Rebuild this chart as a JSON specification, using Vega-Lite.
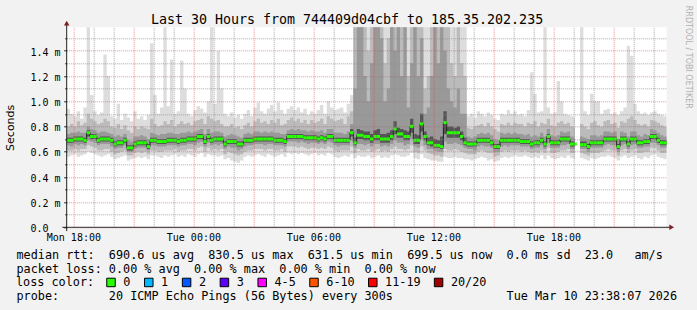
{
"$schema": "https://vega.github.io/schema/vega-lite/v6.json",
"width": 600,
"height": 200,
"autosize": "none",
"padding": {"left": 66.7, "top": 27.3, "right": 30.3, "bottom": 82.7},
"background": "#f2f2f2",
"config": {"view": {"fill": "white", "stroke": null}, "font": "DejaVu Sans Mono"},
"title": {"text": "Last 30 Hours from 744409d04cbf to 185.35.202.235", "font": "DejaVu Sans Mono", "fontSize": 13.3, "fontWeight": "normal", "color": "black", "anchor": "middle", "dx": -19.7, "baseline": "alphabetic", "offset": -32.4},
"data": {"values": [
{"t":"2026-03-09 17:40","m":0.69,"a0":0.56,"b0":0.61,"c0":0.65,"d0":0.67,"d1":0.71,"c1":0.74,"b1":0.80,"a1":0.94},
{"t":"2026-03-09 17:50","m":0.69,"a0":0.57,"b0":0.61,"c0":0.64,"d0":0.67,"d1":0.71,"c1":0.75,"b1":0.82,"a1":0.90},
{"t":"2026-03-09 18:00","m":0.70,"a0":0.58,"b0":0.62,"c0":0.66,"d0":0.68,"d1":0.72,"c1":0.75,"b1":0.80,"a1":0.88},
{"t":"2026-03-09 18:10","m":0.70,"a0":0.56,"b0":0.61,"c0":0.65,"d0":0.68,"d1":0.72,"c1":0.76,"b1":0.84,"a1":0.92},
{"t":"2026-03-09 18:20","m":0.70,"a0":0.57,"b0":0.62,"c0":0.66,"d0":0.68,"d1":0.72,"c1":0.75,"b1":0.81,"a1":0.86},
{"t":"2026-03-09 18:30","m":0.69,"a0":0.58,"b0":0.62,"c0":0.65,"d0":0.67,"d1":0.71,"c1":0.75,"b1":0.83,"a1":0.95},
{"t":"2026-03-09 18:40","m":0.75,"a0":0.60,"b0":0.65,"c0":0.69,"d0":0.72,"d1":0.77,"c1":0.80,"b1":0.90,"a1":1.6},
{"t":"2026-03-09 18:50","m":0.72,"a0":0.59,"b0":0.64,"c0":0.68,"d0":0.70,"d1":0.74,"c1":0.78,"b1":0.86,"a1":1.05},
{"t":"2026-03-09 19:00","m":0.72,"a0":0.58,"b0":0.63,"c0":0.67,"d0":0.70,"d1":0.74,"c1":0.77,"b1":0.84,"a1":0.92},
{"t":"2026-03-09 19:10","m":0.69,"a0":0.57,"b0":0.61,"c0":0.65,"d0":0.67,"d1":0.71,"c1":0.75,"b1":0.82,"a1":0.89},
{"t":"2026-03-09 19:20","m":0.70,"a0":0.56,"b0":0.61,"c0":0.66,"d0":0.68,"d1":0.72,"c1":0.76,"b1":0.83,"a1":0.91},
{"t":"2026-03-09 19:30","m":0.70,"a0":0.57,"b0":0.62,"c0":0.66,"d0":0.68,"d1":0.72,"c1":0.76,"b1":0.86,"a1":1.37},
{"t":"2026-03-09 19:40","m":0.70,"a0":0.58,"b0":0.62,"c0":0.66,"d0":0.68,"d1":0.72,"c1":0.75,"b1":0.84,"a1":1.2},
{"t":"2026-03-09 19:50","m":0.69,"a0":0.56,"b0":0.60,"c0":0.64,"d0":0.67,"d1":0.71,"c1":0.74,"b1":0.80,"a1":0.88},
{"t":"2026-03-09 20:00","m":0.66,"a0":0.54,"b0":0.58,"c0":0.62,"d0":0.64,"d1":0.68,"c1":0.72,"b1":0.79,"a1":0.86},
{"t":"2026-03-09 20:10","m":0.67,"a0":0.55,"b0":0.59,"c0":0.63,"d0":0.65,"d1":0.69,"c1":0.73,"b1":0.82,"a1":0.98},
{"t":"2026-03-09 20:20","m":0.67,"a0":0.56,"b0":0.60,"c0":0.63,"d0":0.65,"d1":0.69,"c1":0.72,"b1":0.78,"a1":0.85},
{"t":"2026-03-09 20:30","m":0.69,"a0":0.57,"b0":0.61,"c0":0.65,"d0":0.67,"d1":0.71,"c1":0.74,"b1":0.81,"a1":0.90},
{"t":"2026-03-09 20:40","m":0.63,"a0":0.53,"b0":0.57,"c0":0.60,"d0":0.61,"d1":0.65,"c1":0.69,"b1":0.77,"a1":0.87},
{"t":"2026-03-09 20:50","m":0.63,"a0":0.54,"b0":0.57,"c0":0.60,"d0":0.61,"d1":0.65,"c1":0.68,"b1":0.75,"a1":0.84},
{"t":"2026-03-09 21:00","m":0.66,"a0":0.55,"b0":0.59,"c0":0.62,"d0":0.64,"d1":0.68,"c1":0.72,"b1":0.80,"a1":0.92},
{"t":"2026-03-09 21:10","m":0.67,"a0":0.56,"b0":0.60,"c0":0.63,"d0":0.65,"d1":0.69,"c1":0.72,"b1":0.78,"a1":0.86},
{"t":"2026-03-09 21:20","m":0.67,"a0":0.55,"b0":0.59,"c0":0.63,"d0":0.65,"d1":0.69,"c1":0.73,"b1":0.80,"a1":0.88},
{"t":"2026-03-09 21:30","m":0.67,"a0":0.56,"b0":0.60,"c0":0.63,"d0":0.65,"d1":0.69,"c1":0.72,"b1":0.79,"a1":0.85},
{"t":"2026-03-09 21:40","m":0.64,"a0":0.54,"b0":0.58,"c0":0.61,"d0":0.62,"d1":0.66,"c1":0.70,"b1":0.78,"a1":0.89},
{"t":"2026-03-09 21:50","m":0.69,"a0":0.57,"b0":0.61,"c0":0.65,"d0":0.67,"d1":0.71,"c1":0.75,"b1":0.86,"a1":1.46},
{"t":"2026-03-09 22:00","m":0.69,"a0":0.57,"b0":0.61,"c0":0.65,"d0":0.67,"d1":0.71,"c1":0.74,"b1":0.82,"a1":1.05},
{"t":"2026-03-09 22:10","m":0.68,"a0":0.56,"b0":0.60,"c0":0.64,"d0":0.66,"d1":0.70,"c1":0.73,"b1":0.80,"a1":0.90},
{"t":"2026-03-09 22:20","m":0.68,"a0":0.55,"b0":0.60,"c0":0.64,"d0":0.66,"d1":0.70,"c1":0.74,"b1":0.81,"a1":0.95},
{"t":"2026-03-09 22:30","m":0.68,"a0":0.57,"b0":0.61,"c0":0.64,"d0":0.66,"d1":0.70,"c1":0.74,"b1":0.84,"a1":1.6},
{"t":"2026-03-09 22:40","m":0.69,"a0":0.56,"b0":0.61,"c0":0.65,"d0":0.67,"d1":0.71,"c1":0.75,"b1":0.82,"a1":0.96},
{"t":"2026-03-09 22:50","m":0.69,"a0":0.57,"b0":0.61,"c0":0.65,"d0":0.67,"d1":0.71,"c1":0.75,"b1":0.85,"a1":1.33},
{"t":"2026-03-09 23:00","m":0.69,"a0":0.58,"b0":0.62,"c0":0.65,"d0":0.67,"d1":0.71,"c1":0.74,"b1":0.80,"a1":0.90},
{"t":"2026-03-09 23:10","m":0.68,"a0":0.56,"b0":0.60,"c0":0.64,"d0":0.66,"d1":0.70,"c1":0.74,"b1":0.82,"a1":0.92},
{"t":"2026-03-09 23:20","m":0.69,"a0":0.57,"b0":0.61,"c0":0.65,"d0":0.67,"d1":0.71,"c1":0.75,"b1":0.84,"a1":1.32},
{"t":"2026-03-09 23:30","m":0.69,"a0":0.56,"b0":0.61,"c0":0.65,"d0":0.67,"d1":0.71,"c1":0.75,"b1":0.82,"a1":1.1},
{"t":"2026-03-09 23:40","m":0.70,"a0":0.58,"b0":0.62,"c0":0.66,"d0":0.68,"d1":0.72,"c1":0.76,"b1":0.83,"a1":0.90},
{"t":"2026-03-09 23:50","m":0.70,"a0":0.57,"b0":0.62,"c0":0.66,"d0":0.68,"d1":0.72,"c1":0.75,"b1":0.81,"a1":0.88},
{"t":"2026-03-10 00:00","m":0.70,"a0":0.56,"b0":0.61,"c0":0.65,"d0":0.68,"d1":0.72,"c1":0.76,"b1":0.84,"a1":0.93},
{"t":"2026-03-10 00:10","m":0.72,"a0":0.58,"b0":0.63,"c0":0.67,"d0":0.70,"d1":0.74,"c1":0.77,"b1":0.85,"a1":0.96},
{"t":"2026-03-10 00:20","m":0.72,"a0":0.59,"b0":0.64,"c0":0.68,"d0":0.70,"d1":0.74,"c1":0.78,"b1":0.86,"a1":0.94},
{"t":"2026-03-10 00:30","m":0.68,"a0":0.56,"b0":0.60,"c0":0.64,"d0":0.66,"d1":0.70,"c1":0.74,"b1":0.82,"a1":0.91},
{"t":"2026-03-10 00:40","m":0.72,"a0":0.58,"b0":0.63,"c0":0.67,"d0":0.70,"d1":0.74,"c1":0.78,"b1":0.88,"a1":1.0},
{"t":"2026-03-10 00:50","m":0.69,"a0":0.57,"b0":0.61,"c0":0.65,"d0":0.67,"d1":0.71,"c1":0.75,"b1":0.86,"a1":1.6},
{"t":"2026-03-10 01:00","m":0.70,"a0":0.57,"b0":0.62,"c0":0.66,"d0":0.68,"d1":0.72,"c1":0.76,"b1":0.84,"a1":0.98},
{"t":"2026-03-10 01:10","m":0.70,"a0":0.56,"b0":0.61,"c0":0.65,"d0":0.68,"d1":0.72,"c1":0.76,"b1":0.85,"a1":1.4},
{"t":"2026-03-10 01:20","m":0.70,"a0":0.57,"b0":0.62,"c0":0.66,"d0":0.68,"d1":0.72,"c1":0.75,"b1":0.82,"a1":1.1},
{"t":"2026-03-10 01:30","m":0.66,"a0":0.54,"b0":0.58,"c0":0.62,"d0":0.64,"d1":0.68,"c1":0.72,"b1":0.80,"a1":0.90},
{"t":"2026-03-10 01:40","m":0.68,"a0":0.55,"b0":0.60,"c0":0.64,"d0":0.66,"d1":0.70,"c1":0.73,"b1":0.80,"a1":0.88},
{"t":"2026-03-10 01:50","m":0.68,"a0":0.53,"b0":0.59,"c0":0.63,"d0":0.66,"d1":0.70,"c1":0.74,"b1":0.82,"a1":0.91},
{"t":"2026-03-10 02:00","m":0.68,"a0":0.52,"b0":0.58,"c0":0.63,"d0":0.66,"d1":0.70,"c1":0.73,"b1":0.79,"a1":0.87},
{"t":"2026-03-10 02:10","m":0.66,"a0":0.51,"b0":0.57,"c0":0.61,"d0":0.64,"d1":0.68,"c1":0.72,"b1":0.80,"a1":0.89},
{"t":"2026-03-10 02:20","m":0.66,"a0":0.53,"b0":0.58,"c0":0.62,"d0":0.64,"d1":0.68,"c1":0.71,"b1":0.78,"a1":0.86},
{"t":"2026-03-10 02:30","m":0.69,"a0":0.56,"b0":0.60,"c0":0.64,"d0":0.67,"d1":0.71,"c1":0.74,"b1":0.81,"a1":0.90},
{"t":"2026-03-10 02:40","m":0.69,"a0":0.57,"b0":0.61,"c0":0.65,"d0":0.67,"d1":0.71,"c1":0.75,"b1":0.83,"a1":0.93},
{"t":"2026-03-10 02:50","m":0.69,"a0":0.56,"b0":0.61,"c0":0.65,"d0":0.67,"d1":0.71,"c1":0.74,"b1":0.80,"a1":0.88},
{"t":"2026-03-10 03:00","m":0.70,"a0":0.57,"b0":0.62,"c0":0.66,"d0":0.68,"d1":0.72,"c1":0.76,"b1":0.84,"a1":0.95},
{"t":"2026-03-10 03:10","m":0.70,"a0":0.58,"b0":0.62,"c0":0.66,"d0":0.68,"d1":0.72,"c1":0.76,"b1":0.86,"a1":0.99},
{"t":"2026-03-10 03:20","m":0.70,"a0":0.57,"b0":0.62,"c0":0.66,"d0":0.68,"d1":0.72,"c1":0.75,"b1":0.83,"a1":0.92},
{"t":"2026-03-10 03:30","m":0.70,"a0":0.56,"b0":0.61,"c0":0.65,"d0":0.68,"d1":0.72,"c1":0.76,"b1":0.84,"a1":0.90},
{"t":"2026-03-10 03:40","m":0.70,"a0":0.58,"b0":0.62,"c0":0.66,"d0":0.68,"d1":0.72,"c1":0.75,"b1":0.82,"a1":0.94},
{"t":"2026-03-10 03:50","m":0.70,"a0":0.57,"b0":0.62,"c0":0.66,"d0":0.68,"d1":0.72,"c1":0.76,"b1":0.85,"a1":0.97},
{"t":"2026-03-10 04:00","m":0.69,"a0":0.56,"b0":0.61,"c0":0.65,"d0":0.67,"d1":0.71,"c1":0.75,"b1":0.83,"a1":0.92},
{"t":"2026-03-10 04:10","m":0.69,"a0":0.57,"b0":0.61,"c0":0.65,"d0":0.67,"d1":0.71,"c1":0.75,"b1":0.86,"a1":0.99},
{"t":"2026-03-10 04:20","m":0.69,"a0":0.58,"b0":0.62,"c0":0.65,"d0":0.67,"d1":0.71,"c1":0.74,"b1":0.81,"a1":0.93},
{"t":"2026-03-10 04:30","m":0.68,"a0":0.56,"b0":0.60,"c0":0.64,"d0":0.66,"d1":0.70,"c1":0.74,"b1":0.82,"a1":0.90},
{"t":"2026-03-10 04:40","m":0.72,"a0":0.59,"b0":0.64,"c0":0.68,"d0":0.70,"d1":0.74,"c1":0.77,"b1":0.85,"a1":0.94},
{"t":"2026-03-10 04:50","m":0.72,"a0":0.58,"b0":0.64,"c0":0.68,"d0":0.70,"d1":0.74,"c1":0.78,"b1":0.87,"a1":0.96},
{"t":"2026-03-10 05:00","m":0.72,"a0":0.59,"b0":0.64,"c0":0.68,"d0":0.70,"d1":0.74,"c1":0.77,"b1":0.84,"a1":0.93},
{"t":"2026-03-10 05:10","m":0.72,"a0":0.58,"b0":0.63,"c0":0.67,"d0":0.70,"d1":0.74,"c1":0.78,"b1":0.86,"a1":0.95},
{"t":"2026-03-10 05:20","m":0.72,"a0":0.59,"b0":0.64,"c0":0.68,"d0":0.70,"d1":0.74,"c1":0.77,"b1":0.83,"a1":0.91},
{"t":"2026-03-10 05:30","m":0.71,"a0":0.58,"b0":0.63,"c0":0.67,"d0":0.69,"d1":0.73,"c1":0.77,"b1":0.85,"a1":0.94},
{"t":"2026-03-10 05:40","m":0.71,"a0":0.57,"b0":0.62,"c0":0.66,"d0":0.69,"d1":0.73,"c1":0.76,"b1":0.82,"a1":0.89},
{"t":"2026-03-10 05:50","m":0.71,"a0":0.58,"b0":0.63,"c0":0.67,"d0":0.69,"d1":0.73,"c1":0.77,"b1":0.85,"a1":0.92},
{"t":"2026-03-10 06:00","m":0.71,"a0":0.59,"b0":0.63,"c0":0.67,"d0":0.69,"d1":0.73,"c1":0.76,"b1":0.83,"a1":0.90},
{"t":"2026-03-10 06:10","m":0.70,"a0":0.57,"b0":0.62,"c0":0.66,"d0":0.68,"d1":0.72,"c1":0.76,"b1":0.84,"a1":0.93},
{"t":"2026-03-10 06:20","m":0.71,"a0":0.58,"b0":0.63,"c0":0.67,"d0":0.69,"d1":0.73,"c1":0.77,"b1":0.86,"a1":0.97},
{"t":"2026-03-10 06:30","m":0.70,"a0":0.57,"b0":0.62,"c0":0.66,"d0":0.68,"d1":0.72,"c1":0.75,"b1":0.82,"a1":0.90},
{"t":"2026-03-10 06:40","m":0.72,"a0":0.59,"b0":0.64,"c0":0.68,"d0":0.70,"d1":0.74,"c1":0.78,"b1":0.88,"a1":1.0},
{"t":"2026-03-10 06:50","m":0.72,"a0":0.58,"b0":0.63,"c0":0.67,"d0":0.70,"d1":0.74,"c1":0.78,"b1":0.86,"a1":0.95},
{"t":"2026-03-10 07:00","m":0.69,"a0":0.56,"b0":0.61,"c0":0.65,"d0":0.67,"d1":0.71,"c1":0.75,"b1":0.84,"a1":0.93},
{"t":"2026-03-10 07:10","m":0.69,"a0":0.55,"b0":0.60,"c0":0.64,"d0":0.67,"d1":0.71,"c1":0.75,"b1":0.85,"a1":0.94},
{"t":"2026-03-10 07:20","m":0.69,"a0":0.56,"b0":0.61,"c0":0.65,"d0":0.67,"d1":0.71,"c1":0.75,"b1":0.86,"a1":0.95},
{"t":"2026-03-10 07:30","m":0.69,"a0":0.57,"b0":0.61,"c0":0.65,"d0":0.67,"d1":0.71,"c1":0.74,"b1":0.82,"a1":0.91},
{"t":"2026-03-10 07:40","m":0.69,"a0":0.56,"b0":0.61,"c0":0.65,"d0":0.67,"d1":0.71,"c1":0.76,"b1":0.88,"a1":0.98},
{"t":"2026-03-10 07:50","m":0.75,"a0":0.58,"b0":0.64,"c0":0.69,"d0":0.72,"d1":0.78,"c1":0.82,"b1":0.92,"a1":1.05},
{"t":"2026-03-10 08:00","m":0.67,"a0":0.55,"b0":0.59,"c0":0.63,"d0":0.65,"d1":0.71,"c1":1.1,"b1":1.6,"a1":1.6},
{"t":"2026-03-10 08:10","m":0.73,"a0":0.57,"b0":0.62,"c0":0.66,"d0":0.70,"d1":0.78,"c1":1.6,"b1":1.6,"a1":1.6},
{"t":"2026-03-10 08:20","m":0.73,"a0":0.56,"b0":0.61,"c0":0.66,"d0":0.70,"d1":0.77,"c1":1.6,"b1":1.6,"a1":1.6},
{"t":"2026-03-10 08:30","m":0.72,"a0":0.56,"b0":0.61,"c0":0.65,"d0":0.69,"d1":0.76,"c1":1.2,"b1":1.6,"a1":1.6},
{"t":"2026-03-10 08:40","m":0.72,"a0":0.57,"b0":0.62,"c0":0.66,"d0":0.69,"d1":0.76,"c1":1.0,"b1":1.4,"a1":1.6},
{"t":"2026-03-10 08:50","m":0.70,"a0":0.55,"b0":0.60,"c0":0.64,"d0":0.67,"d1":0.74,"c1":1.3,"b1":1.6,"a1":1.6},
{"t":"2026-03-10 09:00","m":0.72,"a0":0.56,"b0":0.61,"c0":0.66,"d0":0.69,"d1":0.77,"c1":1.6,"b1":1.6,"a1":1.6},
{"t":"2026-03-10 09:10","m":0.72,"a0":0.57,"b0":0.62,"c0":0.66,"d0":0.69,"d1":0.78,"c1":1.6,"b1":1.6,"a1":1.6},
{"t":"2026-03-10 09:20","m":0.70,"a0":0.55,"b0":0.60,"c0":0.64,"d0":0.67,"d1":0.74,"c1":1.5,"b1":1.6,"a1":1.6},
{"t":"2026-03-10 09:30","m":0.70,"a0":0.56,"b0":0.61,"c0":0.65,"d0":0.67,"d1":0.74,"c1":1.0,"b1":1.3,"a1":1.6},
{"t":"2026-03-10 09:40","m":0.70,"a0":0.55,"b0":0.60,"c0":0.64,"d0":0.67,"d1":0.75,"c1":1.1,"b1":1.5,"a1":1.6},
{"t":"2026-03-10 09:50","m":0.72,"a0":0.57,"b0":0.62,"c0":0.66,"d0":0.69,"d1":0.77,"c1":1.6,"b1":1.6,"a1":1.6},
{"t":"2026-03-10 10:00","m":0.78,"a0":0.58,"b0":0.64,"c0":0.69,"d0":0.74,"d1":0.84,"c1":1.4,"b1":1.6,"a1":1.6},
{"t":"2026-03-10 10:10","m":0.74,"a0":0.57,"b0":0.62,"c0":0.67,"d0":0.71,"d1":0.79,"c1":1.6,"b1":1.6,"a1":1.6},
{"t":"2026-03-10 10:20","m":0.74,"a0":0.56,"b0":0.62,"c0":0.67,"d0":0.71,"d1":0.78,"c1":1.2,"b1":1.6,"a1":1.6},
{"t":"2026-03-10 10:30","m":0.72,"a0":0.56,"b0":0.61,"c0":0.65,"d0":0.69,"d1":0.77,"c1":1.6,"b1":1.6,"a1":1.6},
{"t":"2026-03-10 10:40","m":0.72,"a0":0.57,"b0":0.62,"c0":0.66,"d0":0.69,"d1":0.76,"c1":0.95,"b1":1.2,"a1":1.6},
{"t":"2026-03-10 10:50","m":0.80,"a0":0.59,"b0":0.65,"c0":0.70,"d0":0.75,"d1":0.86,"c1":1.3,"b1":1.6,"a1":1.6},
{"t":"2026-03-10 11:00","m":0.69,"a0":0.55,"b0":0.60,"c0":0.64,"d0":0.66,"d1":0.74,"c1":1.6,"b1":1.6,"a1":1.6},
{"t":"2026-03-10 11:10","m":0.69,"a0":0.54,"b0":0.59,"c0":0.63,"d0":0.66,"d1":0.73,"c1":1.2,"b1":1.6,"a1":1.6},
{"t":"2026-03-10 11:20","m":0.82,"a0":0.58,"b0":0.64,"c0":0.70,"d0":0.76,"d1":0.90,"c1":1.5,"b1":1.6,"a1":1.6},
{"t":"2026-03-10 11:30","m":0.72,"a0":0.55,"b0":0.61,"c0":0.65,"d0":0.69,"d1":0.76,"c1":0.90,"b1":1.1,"a1":1.6},
{"t":"2026-03-10 11:40","m":0.67,"a0":0.54,"b0":0.59,"c0":0.62,"d0":0.65,"d1":0.71,"c1":0.95,"b1":1.2,"a1":1.6},
{"t":"2026-03-10 11:50","m":0.67,"a0":0.53,"b0":0.58,"c0":0.62,"d0":0.64,"d1":0.72,"c1":1.2,"b1":1.6,"a1":1.6},
{"t":"2026-03-10 12:00","m":0.65,"a0":0.53,"b0":0.57,"c0":0.61,"d0":0.63,"d1":0.70,"c1":1.6,"b1":1.6,"a1":1.6},
{"t":"2026-03-10 12:10","m":0.65,"a0":0.52,"b0":0.57,"c0":0.60,"d0":0.63,"d1":0.69,"c1":1.3,"b1":1.6,"a1":1.6},
{"t":"2026-03-10 12:20","m":0.64,"a0":0.52,"b0":0.56,"c0":0.60,"d0":0.62,"d1":0.72,"c1":1.6,"b1":1.6,"a1":1.6},
{"t":"2026-03-10 12:30","m":0.83,"a0":0.56,"b0":0.62,"c0":0.68,"d0":0.74,"d1":0.92,"c1":1.4,"b1":1.6,"a1":1.6},
{"t":"2026-03-10 12:40","m":0.75,"a0":0.55,"b0":0.61,"c0":0.66,"d0":0.71,"d1":0.80,"c1":1.1,"b1":1.6,"a1":1.6},
{"t":"2026-03-10 12:50","m":0.75,"a0":0.55,"b0":0.61,"c0":0.66,"d0":0.71,"d1":0.80,"c1":1.0,"b1":1.3,"a1":1.6},
{"t":"2026-03-10 13:00","m":0.75,"a0":0.56,"b0":0.62,"c0":0.67,"d0":0.71,"d1":0.79,"c1":0.95,"b1":1.2,"a1":1.6},
{"t":"2026-03-10 13:10","m":0.75,"a0":0.55,"b0":0.61,"c0":0.66,"d0":0.71,"d1":0.80,"c1":1.1,"b1":1.6,"a1":1.6},
{"t":"2026-03-10 13:20","m":0.72,"a0":0.55,"b0":0.60,"c0":0.65,"d0":0.69,"d1":0.76,"c1":0.90,"b1":1.3,"a1":1.6},
{"t":"2026-03-10 13:30","m":0.67,"a0":0.54,"b0":0.59,"c0":0.63,"d0":0.65,"d1":0.71,"c1":0.90,"b1":1.2,"a1":1.6},
{"t":"2026-03-10 13:40","m":0.66,"a0":0.54,"b0":0.58,"c0":0.62,"d0":0.64,"d1":0.68,"c1":0.72,"b1":0.79,"a1":0.88},
{"t":"2026-03-10 13:50","m":0.66,"a0":0.53,"b0":0.58,"c0":0.62,"d0":0.64,"d1":0.68,"c1":0.71,"b1":0.78,"a1":0.90},
{"t":"2026-03-10 14:00","m":0.66,"a0":0.54,"b0":0.58,"c0":0.61,"d0":0.64,"d1":0.68,"c1":0.72,"b1":0.80,"a1":0.87},
{"t":"2026-03-10 14:10","m":0.69,"a0":0.55,"b0":0.60,"c0":0.64,"d0":0.67,"d1":0.71,"c1":0.74,"b1":0.81,"a1":0.92},
{"t":"2026-03-10 14:20","m":0.69,"a0":0.56,"b0":0.61,"c0":0.65,"d0":0.67,"d1":0.71,"c1":0.75,"b1":0.82,"a1":0.90},
{"t":"2026-03-10 14:30","m":0.69,"a0":0.55,"b0":0.60,"c0":0.64,"d0":0.67,"d1":0.71,"c1":0.74,"b1":0.80,"a1":0.88},
{"t":"2026-03-10 14:40","m":0.69,"a0":0.53,"b0":0.59,"c0":0.64,"d0":0.67,"d1":0.71,"c1":0.75,"b1":0.83,"a1":0.91},
{"t":"2026-03-10 14:50","m":0.67,"a0":0.54,"b0":0.59,"c0":0.63,"d0":0.65,"d1":0.69,"c1":0.73,"b1":0.80,"a1":0.89},
{"t":"2026-03-10 15:00","m":0.64,"a0":0.52,"b0":0.56,"c0":0.60,"d0":0.62,"d1":0.66,"c1":0.70,"b1":0.78,"a1":0.86},
{"t":"2026-03-10 15:10","m":0.64,"a0":0.53,"b0":0.57,"c0":0.60,"d0":0.62,"d1":0.66,"c1":0.69,"b1":0.76,"a1":0.85},
{"t":"2026-03-10 15:20","m":0.69,"a0":0.55,"b0":0.60,"c0":0.64,"d0":0.67,"d1":0.71,"c1":0.75,"b1":0.82,"a1":0.90},
{"t":"2026-03-10 15:30","m":0.69,"a0":0.56,"b0":0.61,"c0":0.65,"d0":0.67,"d1":0.71,"c1":0.74,"b1":0.81,"a1":0.89},
{"t":"2026-03-10 15:40","m":0.69,"a0":0.55,"b0":0.60,"c0":0.64,"d0":0.67,"d1":0.71,"c1":0.75,"b1":0.83,"a1":0.93},
{"t":"2026-03-10 15:50","m":0.69,"a0":0.56,"b0":0.61,"c0":0.65,"d0":0.67,"d1":0.71,"c1":0.74,"b1":0.81,"a1":0.90},
{"t":"2026-03-10 16:00","m":0.69,"a0":0.57,"b0":0.61,"c0":0.65,"d0":0.67,"d1":0.71,"c1":0.75,"b1":0.83,"a1":0.92},
{"t":"2026-03-10 16:10","m":0.69,"a0":0.56,"b0":0.61,"c0":0.65,"d0":0.67,"d1":0.71,"c1":0.74,"b1":0.82,"a1":0.89},
{"t":"2026-03-10 16:20","m":0.68,"a0":0.56,"b0":0.60,"c0":0.64,"d0":0.66,"d1":0.70,"c1":0.74,"b1":0.82,"a1":0.90},
{"t":"2026-03-10 16:30","m":0.68,"a0":0.57,"b0":0.61,"c0":0.64,"d0":0.66,"d1":0.70,"c1":0.73,"b1":0.80,"a1":0.88},
{"t":"2026-03-10 16:40","m":0.68,"a0":0.56,"b0":0.60,"c0":0.64,"d0":0.66,"d1":0.70,"c1":0.74,"b1":0.83,"a1":0.93},
{"t":"2026-03-10 16:50","m":0.66,"a0":0.55,"b0":0.59,"c0":0.62,"d0":0.64,"d1":0.68,"c1":0.72,"b1":0.82,"a1":1.23},
{"t":"2026-03-10 17:00","m":0.67,"a0":0.56,"b0":0.60,"c0":0.63,"d0":0.65,"d1":0.69,"c1":0.73,"b1":0.84,"a1":1.06},
{"t":"2026-03-10 17:10","m":0.67,"a0":0.55,"b0":0.59,"c0":0.63,"d0":0.65,"d1":0.69,"c1":0.72,"b1":0.80,"a1":0.91},
{"t":"2026-03-10 17:20","m":0.69,"a0":0.57,"b0":0.61,"c0":0.65,"d0":0.67,"d1":0.71,"c1":0.75,"b1":0.83,"a1":0.92},
{"t":"2026-03-10 17:30","m":0.66,"a0":0.54,"b0":0.59,"c0":0.62,"d0":0.64,"d1":0.68,"c1":0.72,"b1":0.82,"a1":1.6},
{"t":"2026-03-10 17:40","m":0.72,"a0":0.57,"b0":0.63,"c0":0.67,"d0":0.70,"d1":0.74,"c1":0.78,"b1":0.86,"a1":0.95},
{"t":"2026-03-10 17:50","m":0.67,"a0":0.55,"b0":0.59,"c0":0.63,"d0":0.65,"d1":0.69,"c1":0.73,"b1":0.81,"a1":0.90},
{"t":"2026-03-10 18:00","m":0.67,"a0":0.54,"b0":0.59,"c0":0.63,"d0":0.65,"d1":0.69,"c1":0.72,"b1":0.80,"a1":0.91},
{"t":"2026-03-10 18:10","m":0.67,"a0":0.55,"b0":0.60,"c0":0.63,"d0":0.65,"d1":0.69,"c1":0.73,"b1":0.83,"a1":1.16},
{"t":"2026-03-10 18:20","m":0.70,"a0":0.56,"b0":0.61,"c0":0.65,"d0":0.68,"d1":0.72,"c1":0.76,"b1":0.84,"a1":1.0},
{"t":"2026-03-10 18:30","m":0.70,"a0":0.55,"b0":0.61,"c0":0.65,"d0":0.68,"d1":0.72,"c1":0.75,"b1":0.82,"a1":0.90},
{"t":"2026-03-10 18:40","m":0.70,"a0":0.57,"b0":0.62,"c0":0.66,"d0":0.68,"d1":0.72,"c1":0.76,"b1":0.83,"a1":0.89},
{"t":"2026-03-10 18:50","m":0.66,"a0":0.55,"b0":0.59,"c0":0.62,"d0":0.64,"d1":0.68,"c1":0.72,"b1":0.80,"a1":0.88},
{"t":"2026-03-10 19:00","m":0.66,"a0":0.54,"b0":0.59,"c0":0.62,"d0":0.64,"d1":0.68,"c1":0.71,"b1":0.79,"a1":0.87},
{"t":"2026-03-10 19:05","a0":0.54,"b0":0.59,"c0":0.62,"d0":0.64,"d1":0.68,"c1":0.71,"b1":0.79,"a1":0.87},
{"t":"2026-03-10 19:10"},
{"t":"2026-03-10 19:20","m":0.655,"a0":0.55,"b0":0.59,"c0":0.62,"d0":0.64,"d1":0.68,"c1":0.72,"b1":0.82,"a1":1.6},
{"t":"2026-03-10 19:30","m":0.655,"a0":0.54,"b0":0.58,"c0":0.62,"d0":0.64,"d1":0.68,"c1":0.71,"b1":0.80,"a1":0.92},
{"t":"2026-03-10 19:40","m":0.64,"a0":0.53,"b0":0.57,"c0":0.60,"d0":0.62,"d1":0.66,"c1":0.70,"b1":0.78,"a1":0.89},
{"t":"2026-03-10 19:50","m":0.67,"a0":0.55,"b0":0.59,"c0":0.63,"d0":0.65,"d1":0.69,"c1":0.73,"b1":0.83,"a1":1.06},
{"t":"2026-03-10 20:00","m":0.67,"a0":0.54,"b0":0.59,"c0":0.63,"d0":0.65,"d1":0.69,"c1":0.73,"b1":0.84,"a1":1.0},
{"t":"2026-03-10 20:10","m":0.67,"a0":0.55,"b0":0.59,"c0":0.63,"d0":0.65,"d1":0.69,"c1":0.72,"b1":0.81,"a1":1.0},
{"t":"2026-03-10 20:20","m":0.67,"a0":0.56,"b0":0.60,"c0":0.63,"d0":0.65,"d1":0.69,"c1":0.73,"b1":0.80,"a1":0.90},
{"t":"2026-03-10 20:30","m":0.70,"a0":0.56,"b0":0.61,"c0":0.65,"d0":0.68,"d1":0.72,"c1":0.76,"b1":0.84,"a1":0.93},
{"t":"2026-03-10 20:40","m":0.70,"a0":0.57,"b0":0.62,"c0":0.66,"d0":0.68,"d1":0.72,"c1":0.76,"b1":0.85,"a1":0.94},
{"t":"2026-03-10 20:50","m":0.70,"a0":0.56,"b0":0.61,"c0":0.65,"d0":0.68,"d1":0.72,"c1":0.75,"b1":0.82,"a1":0.90},
{"t":"2026-03-10 21:00","m":0.70,"a0":0.55,"b0":0.61,"c0":0.65,"d0":0.68,"d1":0.72,"c1":0.76,"b1":0.83,"a1":0.91},
{"t":"2026-03-10 21:10","m":0.64,"a0":0.53,"b0":0.57,"c0":0.60,"d0":0.62,"d1":0.66,"c1":0.70,"b1":0.79,"a1":0.89},
{"t":"2026-03-10 21:20","m":0.70,"a0":0.56,"b0":0.61,"c0":0.65,"d0":0.68,"d1":0.72,"c1":0.76,"b1":0.84,"a1":0.92},
{"t":"2026-03-10 21:30","m":0.70,"a0":0.57,"b0":0.62,"c0":0.66,"d0":0.68,"d1":0.72,"c1":0.75,"b1":0.83,"a1":0.95},
{"t":"2026-03-10 21:40","m":0.66,"a0":0.55,"b0":0.59,"c0":0.62,"d0":0.64,"d1":0.68,"c1":0.72,"b1":0.86,"a1":1.44},
{"t":"2026-03-10 21:50","m":0.70,"a0":0.56,"b0":0.61,"c0":0.65,"d0":0.68,"d1":0.72,"c1":0.76,"b1":0.88,"a1":1.36},
{"t":"2026-03-10 22:00","m":0.70,"a0":0.57,"b0":0.62,"c0":0.66,"d0":0.68,"d1":0.72,"c1":0.76,"b1":0.85,"a1":0.98},
{"t":"2026-03-10 22:10","m":0.67,"a0":0.55,"b0":0.59,"c0":0.63,"d0":0.65,"d1":0.69,"c1":0.73,"b1":0.82,"a1":0.92},
{"t":"2026-03-10 22:20","m":0.67,"a0":0.54,"b0":0.59,"c0":0.63,"d0":0.65,"d1":0.69,"c1":0.72,"b1":0.81,"a1":0.90},
{"t":"2026-03-10 22:30","m":0.68,"a0":0.56,"b0":0.60,"c0":0.64,"d0":0.66,"d1":0.70,"c1":0.74,"b1":0.82,"a1":0.91},
{"t":"2026-03-10 22:40","m":0.68,"a0":0.55,"b0":0.60,"c0":0.64,"d0":0.66,"d1":0.70,"c1":0.73,"b1":0.80,"a1":0.89},
{"t":"2026-03-10 22:50","m":0.72,"a0":0.57,"b0":0.63,"c0":0.67,"d0":0.70,"d1":0.74,"c1":0.78,"b1":0.85,"a1":0.91},
{"t":"2026-03-10 23:00","m":0.72,"a0":0.58,"b0":0.63,"c0":0.67,"d0":0.70,"d1":0.74,"c1":0.77,"b1":0.84,"a1":0.92},
{"t":"2026-03-10 23:10","m":0.69,"a0":0.56,"b0":0.61,"c0":0.65,"d0":0.67,"d1":0.71,"c1":0.75,"b1":0.83,"a1":0.90},
{"t":"2026-03-10 23:20","m":0.67,"a0":0.55,"b0":0.59,"c0":0.63,"d0":0.65,"d1":0.69,"c1":0.73,"b1":0.81,"a1":0.89},
{"t":"2026-03-10 23:30","m":0.67,"a0":0.54,"b0":0.59,"c0":0.63,"d0":0.65,"d1":0.69,"c1":0.72,"b1":0.80,"a1":0.88},
{"t":"2026-03-10 23:40","a0":0.54,"b0":0.59,"c0":0.63,"d0":0.65,"d1":0.69,"c1":0.72,"b1":0.80,"a1":0.88}
]},
"layer": [
{"mark": {"type": "area", "interpolate": "step-after", "color": "#dddddd", "clip": true, "invalid": "break-paths-filter-domains"},
"encoding": {
"x": {"field": "t", "type": "temporal",
"scale": {"domain": [{"year": 2026, "month": 3, "date": 9, "hours": 17, "minutes": 40}, {"year": 2026, "month": 3, "date": 10, "hours": 23, "minutes": 40}]},
"axis": {"orient": "bottom", "values": [
{"year": 2026, "month": 3, "date": 9, "hours": 19}, {"year": 2026, "month": 3, "date": 9, "hours": 20}, {"year": 2026, "month": 3, "date": 9, "hours": 22}, {"year": 2026, "month": 3, "date": 9, "hours": 23},
{"year": 2026, "month": 3, "date": 10, "hours": 1}, {"year": 2026, "month": 3, "date": 10, "hours": 2}, {"year": 2026, "month": 3, "date": 10, "hours": 4}, {"year": 2026, "month": 3, "date": 10, "hours": 5},
{"year": 2026, "month": 3, "date": 10, "hours": 7}, {"year": 2026, "month": 3, "date": 10, "hours": 8}, {"year": 2026, "month": 3, "date": 10, "hours": 10}, {"year": 2026, "month": 3, "date": 10, "hours": 11},
{"year": 2026, "month": 3, "date": 10, "hours": 13}, {"year": 2026, "month": 3, "date": 10, "hours": 14}, {"year": 2026, "month": 3, "date": 10, "hours": 16}, {"year": 2026, "month": 3, "date": 10, "hours": 17},
{"year": 2026, "month": 3, "date": 10, "hours": 19}, {"year": 2026, "month": 3, "date": 10, "hours": 20}, {"year": 2026, "month": 3, "date": 10, "hours": 22}, {"year": 2026, "month": 3, "date": 10, "hours": 23}],
"labels": false, "ticks": false, "domain": false,
"grid": true, "gridColor": "#8f8f8f", "gridOpacity": 0.75, "gridDash": [1, 1], "zindex": 1,
"title": "probe:\u00a0\u00a0\u00a0\u00a0\u00a0\u00a0\u00a020 ICMP Echo Pings (56 Bytes) every 300s\u00a0\u00a0\u00a0\u00a0\u00a0\u00a0\u00a0\u00a0\u00a0\u00a0\u00a0\u00a0\u00a0\u00a0\u00a0\u00a0Tue Mar 10 23:38:07 2026",
"titleFont": "DejaVu Sans Mono", "titleFontSize": 11.8, "titleFontWeight": "normal", "titleColor": "black",
"titleAlign": "left", "titleAnchor": "start", "titleBaseline": "alphabetic", "titleX": -50.7, "titleY": 72.0, "titleLimit": 2000}},
"y": {"field": "a1", "type": "quantitative", "scale": {"domain": [0, 1.586], "nice": false},
"axis": {"orient": "left", "values": [0.1, 0.3, 0.5, 0.7, 0.9, 1.1, 1.3, 1.5],
"labels": false, "domain": false, "title": null, "ticks": true, "tickSize": 2, "tickColor": "#1f1f1f",
"grid": true, "gridColor": "#8f8f8f", "gridOpacity": 0.75, "gridDash": [1, 1], "zindex": 1}},
"y2": {"field": "a0"}
}},
{"mark": {"type": "area", "interpolate": "step-after", "color": "#bbbbbb", "clip": true, "invalid": "break-paths-filter-domains"},
"encoding": {
"x": {"field": "t", "type": "temporal",
"scale": {"domain": [{"year": 2026, "month": 3, "date": 9, "hours": 17, "minutes": 40}, {"year": 2026, "month": 3, "date": 10, "hours": 23, "minutes": 40}]},
"axis": {"orient": "bottom", "values": [
{"year": 2026, "month": 3, "date": 9, "hours": 18}, {"year": 2026, "month": 3, "date": 9, "hours": 21},
{"year": 2026, "month": 3, "date": 10, "hours": 0}, {"year": 2026, "month": 3, "date": 10, "hours": 3}, {"year": 2026, "month": 3, "date": 10, "hours": 6}, {"year": 2026, "month": 3, "date": 10, "hours": 9},
{"year": 2026, "month": 3, "date": 10, "hours": 12}, {"year": 2026, "month": 3, "date": 10, "hours": 15}, {"year": 2026, "month": 3, "date": 10, "hours": 18}, {"year": 2026, "month": 3, "date": 10, "hours": 21}],
"labelExpr": "hours(datum.value) % 6 == 0 ? timeFormat(datum.value, '%a %H:%M') : ''",
"labelFont": "DejaVu Sans Mono", "labelFontSize": 10, "labelColor": "black", "labelBaseline": "alphabetic", "labelPadding": 13.4, "labelAlign": "center",
"labelOverlap": false, "labelBound": false, "labelFlush": false,
"ticks": false, "domain": false,
"grid": true, "gridColor": "#de4f4f", "gridOpacity": 0.6, "gridDash": [1, 1], "zindex": 1,
"title": ["median rtt:\u00a0\u00a0690.6 us avg\u00a0\u00a0830.5 us max\u00a0\u00a0631.5 us min\u00a0\u00a0699.5 us now\u00a0\u00a00.0 ms sd\u00a0\u00a023.0\u00a0\u00a0\u00a0am/s", "packet loss: 0.00 % avg\u00a0\u00a00.00 % max\u00a0\u00a00.00 % min\u00a0\u00a00.00 % now"],
"titleFont": "DejaVu Sans Mono", "titleFontSize": 11.8, "titleFontWeight": "normal", "titleColor": "black",
"titleAlign": "left", "titleAnchor": "start", "titleBaseline": "alphabetic", "titleX": -50.7, "titleY": 31.2, "titleLineHeight": 13.6, "titleLimit": 2000}},
"y": {"field": "b1", "type": "quantitative", "scale": {"domain": [0, 1.586], "nice": false},
"axis": {"orient": "left", "values": [0, 0.2, 0.4, 0.6, 0.8, 1, 1.2, 1.4],
"labelExpr": "datum.value == 0 ? '0.0' : format(datum.value, '.1f') + ' m'",
"labelFont": "DejaVu Sans Mono", "labelFontSize": 10, "labelColor": "black",
"labelAlign": "left", "labelPadding": 33.7, "labelBaseline": "alphabetic", "labelOffset": 4.3,
"labelOverlap": false, "labelBound": false, "labelFlush": false,
"ticks": true, "tickSize": 3, "tickColor": "#1f1f1f", "domain": false,
"grid": true, "gridColor": "#de4f4f", "gridOpacity": 0.6, "gridDash": [1, 1], "zindex": 1,
"title": "Seconds", "titleFont": "DejaVu Sans", "titleFontSize": 11, "titleFontWeight": "normal", "titleColor": "black",
"titleAngle": -90, "titleAlign": "center", "titleBaseline": "alphabetic", "titleX": -52.7, "titleY": 100}},
"y2": {"field": "b0"}
}},
{"mark": {"type": "area", "interpolate": "step-after", "color": "#999999", "clip": true, "invalid": "break-paths-filter-domains"},
"encoding": {
"x": {"field": "t", "type": "temporal", "scale": {"domain": [{"year": 2026, "month": 3, "date": 9, "hours": 17, "minutes": 40}, {"year": 2026, "month": 3, "date": 10, "hours": 23, "minutes": 40}]}, "axis": null},
"y": {"field": "c1", "type": "quantitative", "scale": {"domain": [0, 1.586], "nice": false}, "axis": null}, "y2": {"field": "c0"}}},
{"mark": {"type": "area", "interpolate": "step-after", "color": "#555555", "clip": true, "invalid": "break-paths-filter-domains"},
"encoding": {
"x": {"field": "t", "type": "temporal", "scale": {"domain": [{"year": 2026, "month": 3, "date": 9, "hours": 17, "minutes": 40}, {"year": 2026, "month": 3, "date": 10, "hours": 23, "minutes": 40}]}, "axis": null},
"y": {"field": "d1", "type": "quantitative", "scale": {"domain": [0, 1.586], "nice": false}, "axis": null}, "y2": {"field": "d0"}}},
{"mark": {"type": "line", "interpolate": "step-after", "color": "#202020", "strokeWidth": 1, "clip": true, "invalid": "break-paths-filter-domains"},
"encoding": {
"x": {"field": "t", "type": "temporal", "scale": {"domain": [{"year": 2026, "month": 3, "date": 9, "hours": 17, "minutes": 40}, {"year": 2026, "month": 3, "date": 10, "hours": 23, "minutes": 40}]}, "axis": null},
"y": {"field": "m", "type": "quantitative", "scale": {"domain": [0, 1.586], "nice": false}, "axis": null}}},
{"mark": {"type": "tick", "orient": "horizontal", "size": 3.4, "thickness": 3, "xOffset": 1.67, "opacity": 1, "filled": true},
"encoding": {
"x": {"field": "t", "type": "temporal", "scale": {"domain": [{"year": 2026, "month": 3, "date": 9, "hours": 17, "minutes": 40}, {"year": 2026, "month": 3, "date": 10, "hours": 23, "minutes": 40}]}, "axis": null},
"y": {"field": "m", "type": "quantitative", "scale": {"domain": [0, 1.586], "nice": false}, "axis": null},
"color": {"datum": "0", "type": "nominal",
"scale": {"domain": ["0", "1", "2", "3", "4-5", "6-10", "11-19", "20/20"], "range": ["#26ff00", "#00b8ff", "#0059ff", "#5e00ff", "#ff00ff", "#ff5500", "#ff0000", "#a10000"]},
"legend": {"orient": "none", "legendX": -50.7, "legendY": 249.1, "direction": "horizontal",
"title": "loss color:", "titleOrient": "left", "titleFont": "DejaVu Sans Mono", "titleFontSize": 11.8, "titleFontWeight": "normal", "titleColor": "black", "titlePadding": 10.1, "titleAngle": 0,
"labelFont": "DejaVu Sans Mono", "labelFontSize": 11.8, "labelColor": "black", "labelOffset": 6.4, "columnPadding": 10.8,
"symbolType": "square", "symbolSize": 72, "symbolStrokeColor": "black", "symbolStrokeWidth": 1, "symbolOpacity": 1, "padding": 0}
}
}},
{"data": {"values": [{}]},
"mark": {"type": "rule", "color": "#1f1f1f", "strokeWidth": 1},
"encoding": {
"x": {"datum": {"year": 2026, "month": 3, "date": 9, "hours": 17, "minutes": 40}, "type": "temporal", "scale": {"domain": [{"year": 2026, "month": 3, "date": 9, "hours": 17, "minutes": 40}, {"year": 2026, "month": 3, "date": 10, "hours": 23, "minutes": 40}]}, "axis": null},
"y": {"datum": -0.03, "type": "quantitative", "scale": {"domain": [0, 1.586], "nice": false}, "axis": null},
"y2": {"datum": 1.61}
}},
{"data": {"values": [{}]},
"mark": {"type": "rule", "color": "#1f1f1f", "strokeWidth": 1},
"encoding": {
"x": {"datum": {"year": 2026, "month": 3, "date": 9, "hours": 17, "minutes": 27}, "type": "temporal", "scale": {"domain": [{"year": 2026, "month": 3, "date": 9, "hours": 17, "minutes": 40}, {"year": 2026, "month": 3, "date": 10, "hours": 23, "minutes": 40}]}, "axis": null},
"x2": {"datum": {"year": 2026, "month": 3, "date": 10, "hours": 23, "minutes": 52}},
"y": {"datum": 0, "type": "quantitative", "scale": {"domain": [0, 1.586], "nice": false}, "axis": null}
}},
{"data": {"values": [{}]},
"mark": {"type": "point", "shape": "triangle-up", "filled": true, "opacity": 1, "color": "#801f1f", "size": 30},
"encoding": {
"x": {"datum": {"year": 2026, "month": 3, "date": 9, "hours": 17, "minutes": 40}, "type": "temporal", "scale": {"domain": [{"year": 2026, "month": 3, "date": 9, "hours": 17, "minutes": 40}, {"year": 2026, "month": 3, "date": 10, "hours": 23, "minutes": 40}]}, "axis": null},
"y": {"datum": 1.62, "type": "quantitative", "scale": {"domain": [0, 1.586], "nice": false},
"axis": {"orient": "right", "domain": false, "ticks": false, "labels": false, "grid": false,
"title": "RRDTOOL / TOBI OETIKER", "titleFont": "DejaVu Sans", "titleFontSize": 8, "titleFontWeight": "normal", "titleColor": "#b0b0b0",
"titleAngle": 90, "titleAlign": "left", "titleBaseline": "alphabetic", "titleX": 18.3, "titleY": -22}}
}},
{"data": {"values": [{}]},
"mark": {"type": "point", "shape": "triangle-right", "filled": true, "opacity": 1, "color": "#801f1f", "size": 30},
"encoding": {
"x": {"datum": {"year": 2026, "month": 3, "date": 10, "hours": 23, "minutes": 55}, "type": "temporal", "scale": {"domain": [{"year": 2026, "month": 3, "date": 9, "hours": 17, "minutes": 40}, {"year": 2026, "month": 3, "date": 10, "hours": 23, "minutes": 40}]}, "axis": null},
"y": {"datum": 0, "type": "quantitative", "scale": {"domain": [0, 1.586], "nice": false}, "axis": null}
}}
],
"resolve": {"axis": {"x": "independent", "y": "independent"}}
}
